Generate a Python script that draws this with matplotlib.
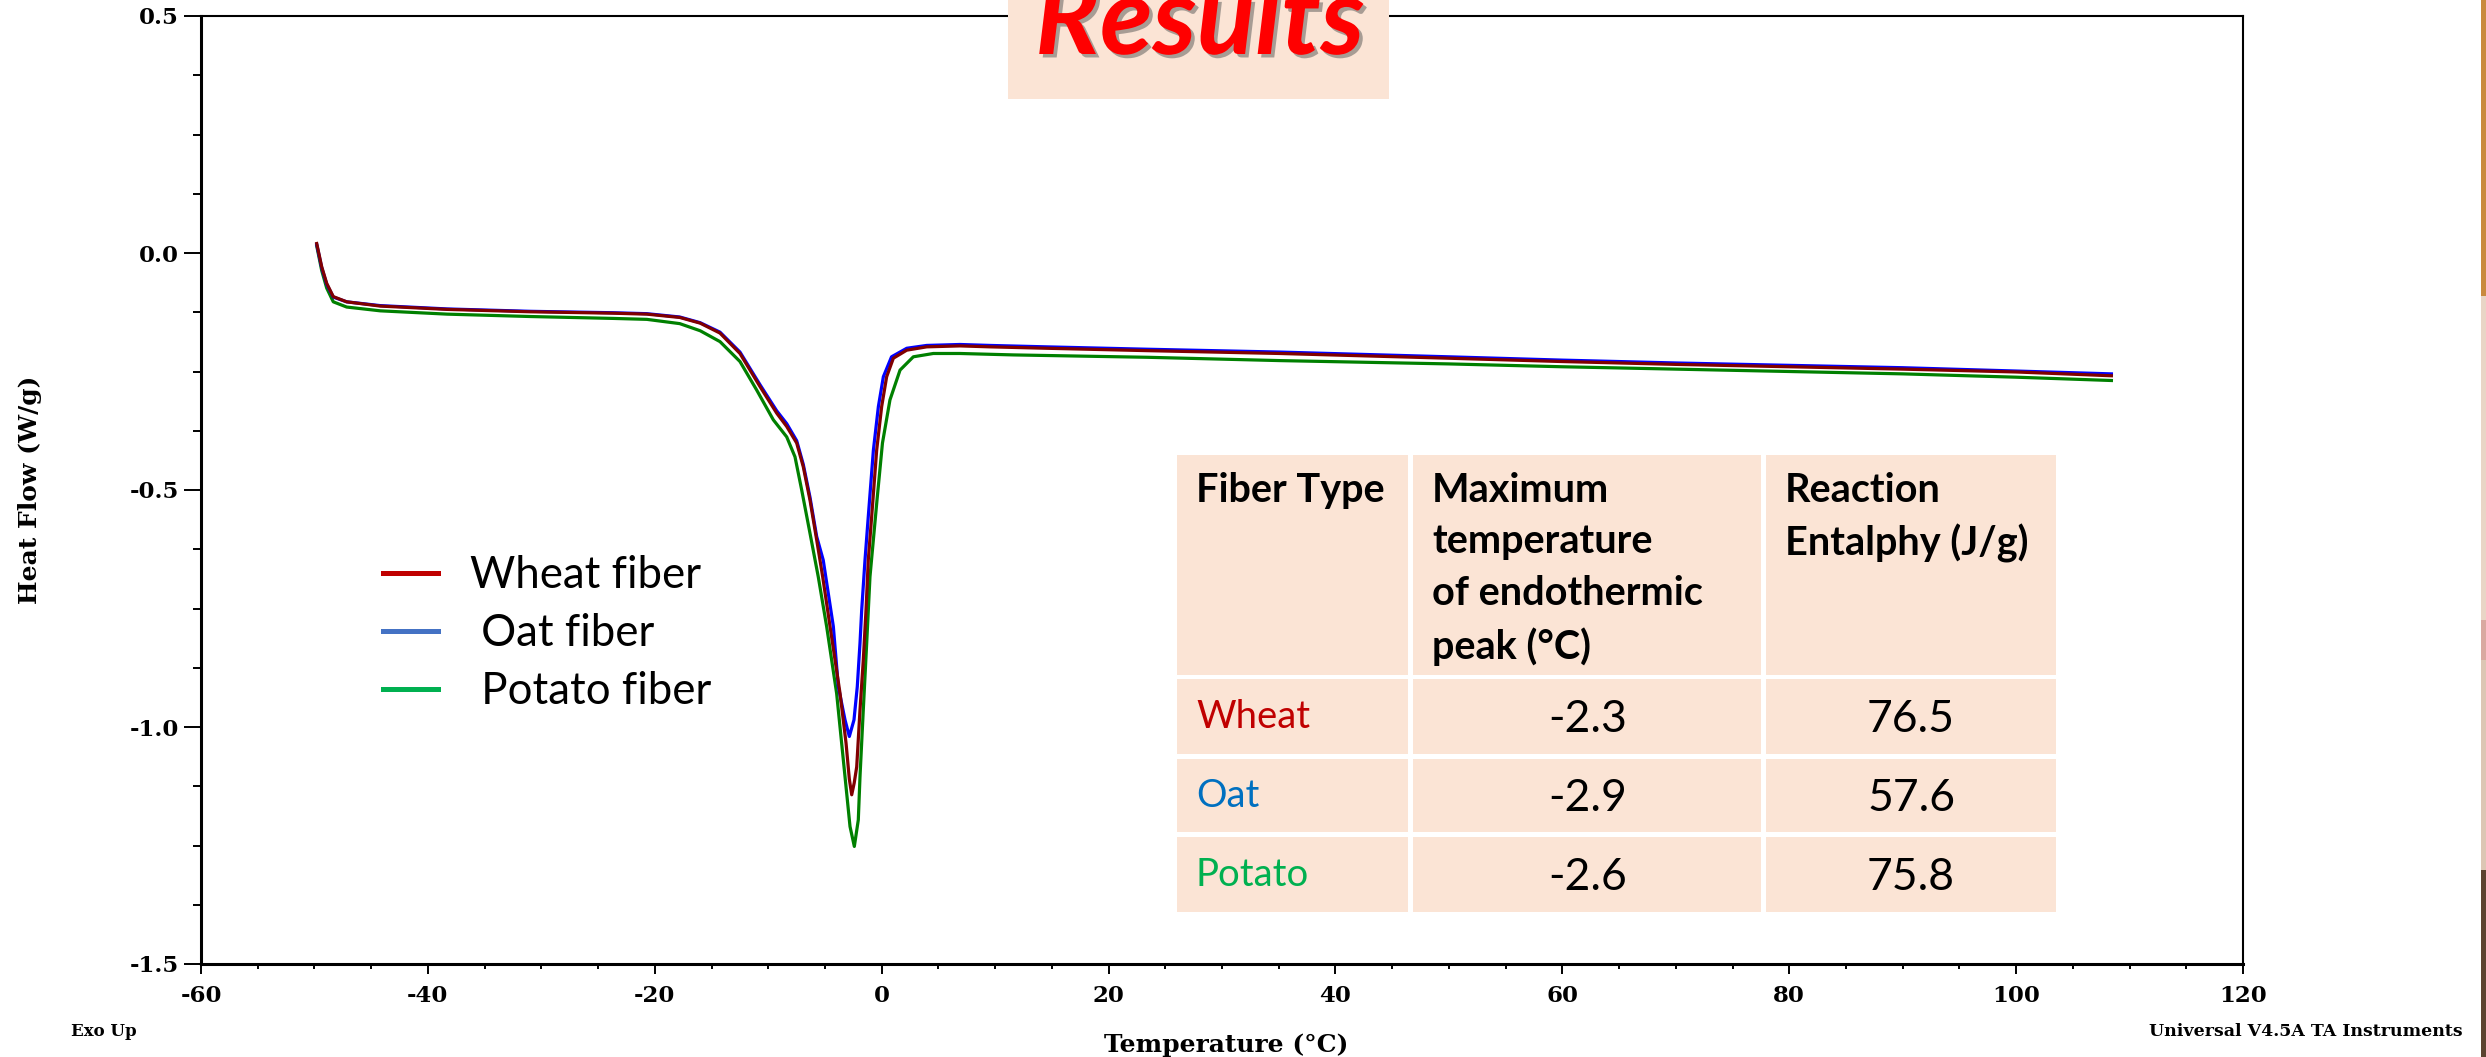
import matplotlib
matplotlib.use("Agg")
import matplotlib.pyplot as plt
import matplotlib.patheffects as pe
from matplotlib.lines import Line2D
from matplotlib.patches import Rectangle
from matplotlib.ticker import FormatStrFormatter, MultipleLocator

W, H, DPI = 2486, 1057, 100
plt.rcParams["axes.unicode_minus"] = False

# DSC traces (temperature in C, heat flow in W/g)
wheat_temp = [-49.8, -49.36, -48.92, -48.34, -47.16, -44.2, -38.3, -31.0, -23.7, -20.7,
              -17.8, -16.0, -14.25, -12.49, -10.72, -9.25, -8.37, -7.49, -6.91, -6.32,
              -5.73, -5.2, -4.55, -3.67, -3.14, -2.85, -2.64, -2.42, -2.2, -1.91,
              -1.62, -1.38, -1.18, -0.88, -0.44, 0.0, 0.44, 1.03, 2.21, 3.97,
              6.9, 9.55, 14.55, 23.4, 35.1, 50, 60, 70, 80, 90, 100, 108.4]
wheat_flow = [0.020, -0.029, -0.064, -0.092, -0.103, -0.112, -0.119, -0.124, -0.127, -0.129,
              -0.136, -0.148, -0.169, -0.212, -0.282, -0.338, -0.366, -0.401, -0.451, -0.521,
              -0.605, -0.683, -0.788, -0.929, -1.034, -1.110, -1.143, -1.118, -1.084, -0.964,
              -0.859, -0.753, -0.648, -0.556, -0.416, -0.324, -0.261, -0.222, -0.205, -0.198,
              -0.196, -0.198, -0.201, -0.206, -0.212, -0.222, -0.229, -0.235, -0.240, -0.245, -0.251, -0.259]

oat_temp = [-49.8, -49.36, -48.92, -48.34, -47.16, -44.2, -38.3, -31.0, -23.7, -20.7,
            -17.8, -16.0, -14.25, -12.49, -10.72, -9.25, -8.37, -7.49, -6.91, -6.32,
            -5.73, -5.15, -4.26, -3.82, -3.23, -2.85, -2.44, -2.15, -1.91, -1.76,
            -1.47, -1.18, -0.73, -0.29, 0.15, 0.87, 2.21, 3.97,
            6.9, 9.55, 14.55, 23.4, 35.1, 50, 60, 70, 80, 90, 100, 108.4]
oat_flow = [0.018, -0.031, -0.066, -0.093, -0.103, -0.111, -0.118, -0.123, -0.126, -0.128,
            -0.135, -0.147, -0.167, -0.209, -0.278, -0.333, -0.360, -0.396, -0.446, -0.515,
            -0.598, -0.648, -0.788, -0.915, -0.985, -1.020, -0.985, -0.915, -0.823, -0.753,
            -0.648, -0.556, -0.416, -0.324, -0.261, -0.219, -0.201, -0.195,
            -0.193, -0.195, -0.198, -0.203, -0.209, -0.219, -0.226, -0.232, -0.237, -0.242, -0.249, -0.255]

potato_temp = [-49.8, -49.36, -48.92, -48.34, -47.16, -44.2, -38.3, -31.0, -23.7, -20.7,
               -17.8, -16.0, -14.25, -12.49, -11.02, -9.55, -8.37, -7.64, -7.05, -6.32,
               -5.59, -4.85, -3.97, -3.23, -2.79, -2.41, -2.06, -1.91, -1.62, -1.32,
               -1.03, -0.41, 0.07, 0.73, 1.62, 2.79, 4.55,
               6.9, 11.6, 23.4, 35.1, 50, 60, 70, 80, 90, 100, 108.4]
potato_flow = [0.015, -0.037, -0.074, -0.103, -0.114, -0.122, -0.129, -0.134, -0.138, -0.140,
               -0.149, -0.164, -0.187, -0.229, -0.289, -0.352, -0.388, -0.430, -0.500, -0.591,
               -0.683, -0.788, -0.929, -1.105, -1.210, -1.252, -1.196, -1.105, -0.964, -0.823,
               -0.683, -0.521, -0.401, -0.310, -0.247, -0.219, -0.212,
               -0.212, -0.215, -0.220, -0.227, -0.234, -0.240, -0.245, -0.250, -0.255, -0.262, -0.269]

series_labels = ["Wheat fiber", " Oat fiber", " Potato fiber"]
curve_colors = ["#800000", "#0000ff", "#008000"]
legend_colors = ["#c00000", "#4472c4", "#00b050"]

table_header = ["Fiber Type", "Maximum\ntemperature\nof endothermic\npeak (\u00b0C)",
                "Reaction\nEntalphy (J/g)"]
fiber_types = ["Wheat", "Oat", "Potato"]
fiber_colors = ["#c00000", "#0070c0", "#00b050"]
peak_temps = [-2.3, -2.9, -2.6]
enthalpies = [76.5, 57.6, 75.8]

PEACH = "#fbe4d5"
SERIF = {"family": "DejaVu Serif", "weight": "bold"}


def px_box(x0, y0, x1, y1):
    # pixel box (top-left origin) -> figure fraction rect
    return [x0 / W, 1 - y1 / H, (x1 - x0) / W, (y1 - y0) / H]


fig = plt.figure(figsize=(W / DPI, H / DPI), dpi=DPI)
ax = fig.add_axes(px_box(201, 16, 2243, 964))

ax.plot(potato_temp, potato_flow, color=curve_colors[2], lw=2.3)
ax.plot(oat_temp, oat_flow, color=curve_colors[1], lw=2.3)
ax.plot(wheat_temp, wheat_flow, color=curve_colors[0], lw=2.3)

ax.set_xlim(-60, 120)
ax.set_ylim(-1.5, 0.5)
ax.xaxis.set_major_locator(MultipleLocator(20))
ax.xaxis.set_minor_locator(MultipleLocator(5))
ax.yaxis.set_major_locator(MultipleLocator(0.5))
ax.yaxis.set_minor_locator(MultipleLocator(0.125))
ax.xaxis.set_major_formatter(FormatStrFormatter("%d"))
ax.yaxis.set_major_formatter(FormatStrFormatter("%.1f"))

ax.tick_params(axis="y", which="major", direction="out", length=12, width=1.4, pad=4)
ax.tick_params(axis="y", which="minor", direction="out", length=6, width=1.4)
ax.tick_params(axis="x", which="major", direction="out", length=7, width=1.4, pad=8)
ax.tick_params(axis="x", which="minor", direction="out", length=3.5, width=1.4)
for lab in ax.get_xticklabels() + ax.get_yticklabels():
    lab.set_fontfamily(SERIF["family"])
    lab.set_fontweight("bold")
    lab.set_fontsize(16.5)

for side in ["left", "bottom"]:
    ax.spines[side].set_linewidth(2.2)
for side in ["top", "right"]:
    ax.spines[side].set_linewidth(1.5)

ax.set_ylabel("Heat Flow (W/g)", fontsize=18, **SERIF)
ax.yaxis.set_label_coords((30 - 201) / 2042, 0.5)
ax.yaxis.label.set_va("center")
ax.set_xlabel("Temperature (\u00b0C)", fontsize=18, **SERIF)
ax.xaxis.set_label_coords((1226 - 201) / 2042, (964 - 1045) / 948)
ax.xaxis.label.set_va("center")

fig.text(104 / W, 1 - 1032 / H, "Exo Up", fontsize=12, ha="center", va="center", **SERIF)
fig.text(2306 / W, 1 - 1031 / H, "Universal V4.5A TA Instruments", fontsize=12.5,
         ha="center", va="center", **SERIF)

# slide legend
handles = [Line2D([], [], color=c, lw=3.6) for c in legend_colors]
ax.legend(handles, series_labels, loc="upper left", bbox_to_anchor=(383 / W, 1 - 555 / H),
          bbox_transform=fig.transFigure, frameon=False, prop={"family": "Lato", "size": 31.5},
          handlelength=1.25, handletextpad=0.75, labelspacing=0.39, borderpad=0, borderaxespad=0)

# results table drawn in its own pixel-space axes
col_edges = [1175, 1411, 1764, 2058]
row_edges = [452, 677, 757, 835, 915]
tab = fig.add_axes(px_box(col_edges[0], row_edges[0], col_edges[-1], row_edges[-1]))
tab.set_xlim(col_edges[0], col_edges[-1])
tab.set_ylim(row_edges[-1], row_edges[0])
tab.axis("off")
gap = 2.5
for r in range(len(row_edges) - 1):
    for c in range(len(col_edges) - 1):
        x0, x1 = col_edges[c] + gap, col_edges[c + 1] - gap
        y0, y1 = row_edges[r] + gap, row_edges[r + 1] - gap
        tab.add_patch(Rectangle((x0, y0), x1 - x0, y1 - y0, fc=PEACH, ec="none"))

for c, head in enumerate(table_header):
    tab.text(col_edges[c] + 21, 472, head, family="Lato", weight="bold", fontsize=28.5,
             va="top", ha="left", linespacing=1.48)

num_centres = [(col_edges[1] + col_edges[2]) / 2, (col_edges[2] + col_edges[3]) / 2]
for i, (name, color, pt, dh) in enumerate(zip(fiber_types, fiber_colors, peak_temps, enthalpies)):
    yc = (row_edges[i + 1] + row_edges[i + 2]) / 2
    tab.text(col_edges[0] + 21, yc, name, color=color, family="Lato", fontsize=27.5,
             va="center", ha="left")
    tab.text(num_centres[0], yc + 3, f"{pt:.1f}", family="Lato", fontsize=32,
             va="center", ha="center")
    tab.text(num_centres[1], yc + 3, f"{dh:.1f}", family="Lato", fontsize=32,
             va="center", ha="center")

# slide title box covering the top of the chart
fig.add_artist(Rectangle((1008 / W, 1 - 99 / H), 381 / W, 99 / H, transform=fig.transFigure,
                         fc=PEACH, ec="none", zorder=3))
fig.text(1200 / W, 1 - 54 / H, "Results", color="#ff0000", family="Lato", style="italic",
         weight="bold", fontsize=78, ha="center", va="baseline", zorder=4,
         path_effects=[pe.withSimplePatchShadow(offset=(2.5, -2.5), shadow_rgbFace="#555555",
                                                alpha=0.5)])

# sliver of the slide background at the right edge
for y0, y1, col in [(0, 296, "#c98a3e"), (296, 620, "#e9d5c6"), (620, 660, "#d9a9a0"),
                    (660, 870, "#dcc6b4"), (870, 1057, "#5c4330")]:
    fig.add_artist(Rectangle((2481 / W, 1 - y1 / H), 5 / W, (y1 - y0) / H,
                             transform=fig.transFigure, fc=col, ec="none", zorder=3))

fig.savefig("out.png", dpi=DPI)
